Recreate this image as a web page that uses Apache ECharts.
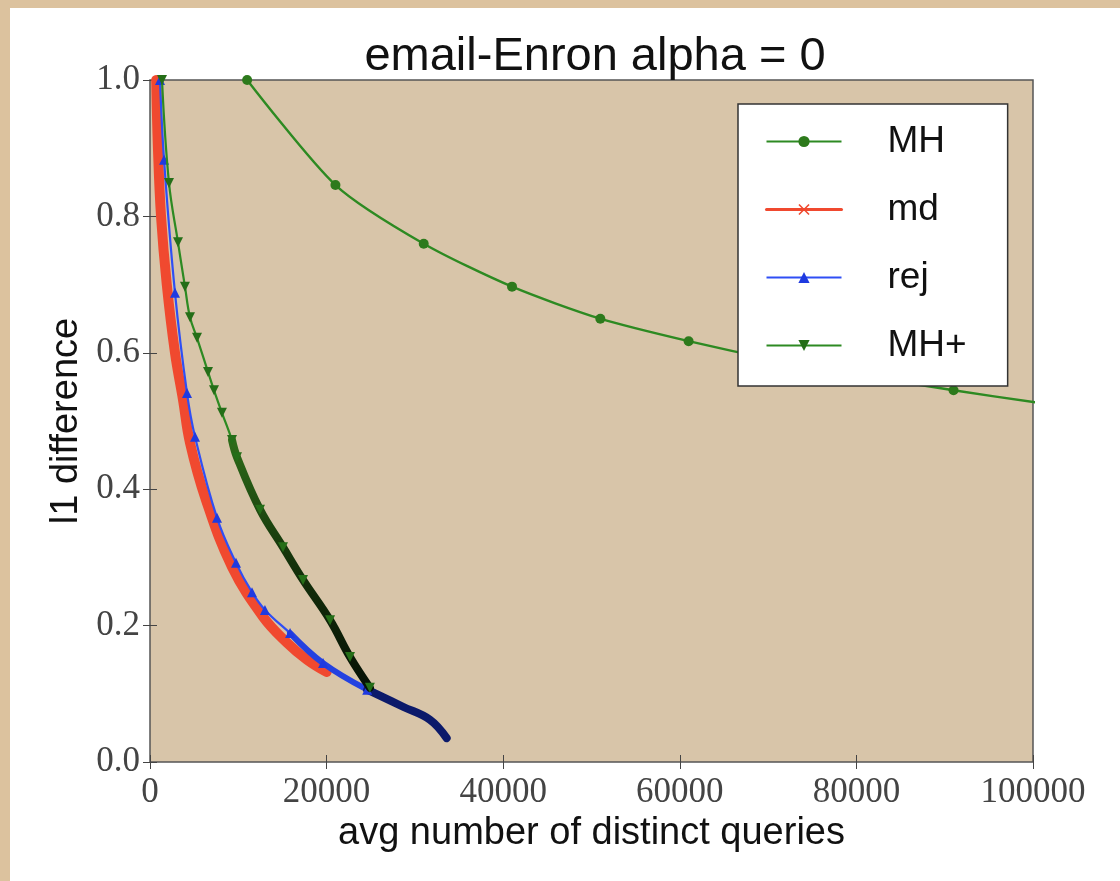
<!DOCTYPE html>
<html>
<head>
<meta charset="utf-8">
<script src="https://cdn.jsdelivr.net/npm/echarts@6/dist/echarts.min.js"></script>
<style>
  html, body { margin: 0; padding: 0; background: #dcc29e; }
  #chart { width: 1120px; height: 881px; }
</style>
</head>
<body>
<div id="chart"></div>
<script>
  // values
  const mhX = [11000, 21000, 31000, 41000, 51000, 61000, 71000, 81000, 91000, 101000];
  const mhY = [1.0, 0.846, 0.76, 0.697, 0.65, 0.617, 0.589, 0.566, 0.545, 0.526];

  const mdX = [700, 900, 1250, 1900, 2830, 3740, 4530, 6340, 9290, 12800, 15500, 17780, 20000];
  const mdY = [1.0, 0.9, 0.8, 0.7, 0.6, 0.531, 0.468, 0.384, 0.286, 0.213, 0.175, 0.15, 0.132];

  const rejX = [1130, 1590, 2830, 4190, 5100, 7590, 9740, 11550, 13020, 15860, 19600, 24600];
  const rejY = [1.0, 0.883, 0.688, 0.541, 0.477, 0.358, 0.292, 0.249, 0.223, 0.189, 0.145, 0.106];
  const rejBandX = [15860, 19600, 24600];
  const rejBandY = [0.189, 0.145, 0.106];
  const rejTailX = [24600, 28650, 31700, 33600];
  const rejTailY = [0.106, 0.081, 0.062, 0.035];

  const mhPlusX = [1360, 2150, 3170, 3960, 4530, 5320, 6570, 7250, 8150, 9290, 9850, 12460, 15060, 17330, 20390, 22650, 24900];
  const mhPlusY = [1.0, 0.849, 0.762, 0.697, 0.652, 0.622, 0.572, 0.545, 0.512, 0.472, 0.447, 0.37, 0.315, 0.267, 0.208, 0.154, 0.109];
  const mhPlusTailX = [9290, 9850, 12460, 15060, 17330, 20390, 22650, 24900];
  const mhPlusTailY = [0.472, 0.447, 0.37, 0.315, 0.267, 0.208, 0.154, 0.109];

  const xTicks = [0, 20000, 40000, 60000, 80000, 100000];
  const yTicks = ['0.0', '0.2', '0.4', '0.6', '0.8', '1.0'];

  function pairs (xs, ys) {
    let out = [];
    for (let i = 0; i < xs.length; i++) {
      out.push([xs[i], ys[i]]);
    }
    return out;
  }

  const crossPath = 'path://M0,1L1,0L5,4L9,0L10,1L6,5L10,9L9,10L5,6L1,10L0,9L4,5Z';
  const tickFont = {fontFamily: 'Liberation Serif', fontSize: 35, color: '#444'};

  let myChart = echarts.init(document.getElementById('chart'));
  myChart.setOption({
    backgroundColor: '#dcc29e',
    animation: false,
    graphic: [{
      type: 'rect',
      z: -10,
      shape: {x: 10, y: 8, width: 1110, height: 873},
      style: {fill: '#ffffff'}
    }],
    title: {
      text: 'email-Enron alpha = 0',
      left: 590,
      textAlign: 'center',
      top: 29,
      textStyle: {fontFamily: 'Liberation Sans', fontSize: 47, fontWeight: 'normal', color: '#111'}
    },
    grid: {
      left: 150,
      top: 80,
      width: 883,
      height: 682,
      show: true,
      backgroundColor: '#d8c5a9',
      borderColor: '#555',
      borderWidth: 1.5
    },
    legend: {
      orient: 'vertical',
      left: 738,
      top: 104,
      padding: [19, 41, 22, 27],
      itemWidth: 75,
      itemHeight: 14,
      itemGap: 31,
      backgroundColor: '#ffffff',
      borderColor: '#333',
      borderWidth: 1.5,
      borderRadius: 0,
      textStyle: {fontFamily: 'Liberation Sans', fontSize: 37, color: '#111', padding: [0, 0, 0, 41]},
      data: [
        {name: 'MH'},
        {name: 'md', lineStyle: {width: 3}},
        {name: 'rej'},
        {name: 'MH+'}
      ]
    },
    xAxis: [{
      type: 'value',
      min: 0,
      max: 100000,
      interval: 20000,
      name: 'avg number of distinct queries',
      nameLocation: 'middle',
      nameGap: 50,
      nameTextStyle: {fontFamily: 'Liberation Sans', fontSize: 38, color: '#111'},
      axisLine: {show: false},
      axisTick: {show: true, inside: true, length: 7, lineStyle: {color: '#444'}},
      axisLabel: Object.assign({margin: 13, formatter: function (v) { return String(v); }}, tickFont),
      splitLine: {show: false}
    }, {
      type: 'value',
      position: 'top',
      min: 0,
      max: 100000,
      interval: 20000,
      axisLine: {show: false},
      axisTick: {show: true, inside: true, length: 7, lineStyle: {color: '#444'}},
      axisLabel: {show: false},
      splitLine: {show: false}
    }],
    yAxis: [{
      type: 'value',
      min: 0,
      max: 1,
      interval: 0.2,
      name: 'l1 difference',
      nameLocation: 'middle',
      nameGap: 61,
      nameTextStyle: {fontFamily: 'Liberation Sans', fontSize: 38, color: '#111'},
      axisLine: {show: false},
      axisTick: {show: true, inside: true, length: 7, lineStyle: {color: '#444'}},
      axisLabel: Object.assign({margin: 10, formatter: function (v) { return yTicks[Math.round(v * 5)]; }}, tickFont),
      splitLine: {show: false}
    }, {
      type: 'value',
      position: 'right',
      min: 0,
      max: 1,
      interval: 0.2,
      axisLine: {show: false},
      axisTick: {show: true, inside: true, length: 7, lineStyle: {color: '#444'}},
      axisLabel: {show: false},
      splitLine: {show: false}
    }],
    series: [{
      name: 'MH',
      type: 'line',
      data: pairs(mhX, mhY),
      smooth: 0.25,
      clip: true,
      symbol: 'circle',
      symbolSize: 10,
      color: '#2d8a22',
      lineStyle: {width: 2.4, color: '#2d8a22'},
      itemStyle: {color: '#2d7a1c'},
      z: 2
    }, {
      name: 'md',
      type: 'line',
      data: pairs(mdX, mdY),
      smooth: 0.4,
      clip: true,
      symbol: crossPath,
      symbolSize: 9,
      showSymbol: false,
      color: '#f0492f',
      lineStyle: {width: 10, color: '#f0492f', cap: 'round'},
      z: 3
    }, {
      name: 'rej',
      type: 'line',
      data: pairs(rejX, rejY),
      smooth: 0.4,
      clip: true,
      symbol: 'triangle',
      symbolSize: 10,
      color: '#2240ee',
      lineStyle: {width: 2.2, color: '#2f4ff5'},
      itemStyle: {color: '#1f3ae0'},
      z: 4
    }, {
      name: 'rej band',
      type: 'line',
      data: pairs(rejBandX, rejBandY),
      smooth: 0.4,
      clip: true,
      showSymbol: false,
      symbol: 'none',
      lineStyle: {width: 6, color: '#2442e0', cap: 'round'},
      z: 4
    }, {
      name: 'rej tail',
      type: 'line',
      data: pairs(rejTailX, rejTailY),
      smooth: 0.4,
      clip: true,
      showSymbol: false,
      symbol: 'none',
      lineStyle: {width: 8, color: '#0c1a6a', cap: 'round'},
      z: 4
    }, {
      name: 'MH+',
      type: 'line',
      data: pairs(mhPlusX, mhPlusY),
      smooth: 0.4,
      clip: true,
      symbol: 'triangle',
      symbolRotate: 180,
      symbolSize: 10,
      color: '#2d8a22',
      lineStyle: {width: 2.2, color: '#2d8a22'},
      itemStyle: {color: '#256e18'},
      z: 5
    }, {
      name: 'MH+ tail',
      type: 'line',
      data: pairs(mhPlusTailX, mhPlusTailY),
      smooth: 0.4,
      clip: true,
      showSymbol: false,
      symbol: 'none',
      lineStyle: {
        width: 8,
        cap: 'round',
        color: new echarts.graphic.LinearGradient(0, 0, 0, 1, [
          {offset: 0, color: '#2f6e1a'},
          {offset: 0.5, color: '#14320b'},
          {offset: 1, color: '#061005'}
        ])
      },
      z: 5
    }]
  });
</script>
</body>
</html>
